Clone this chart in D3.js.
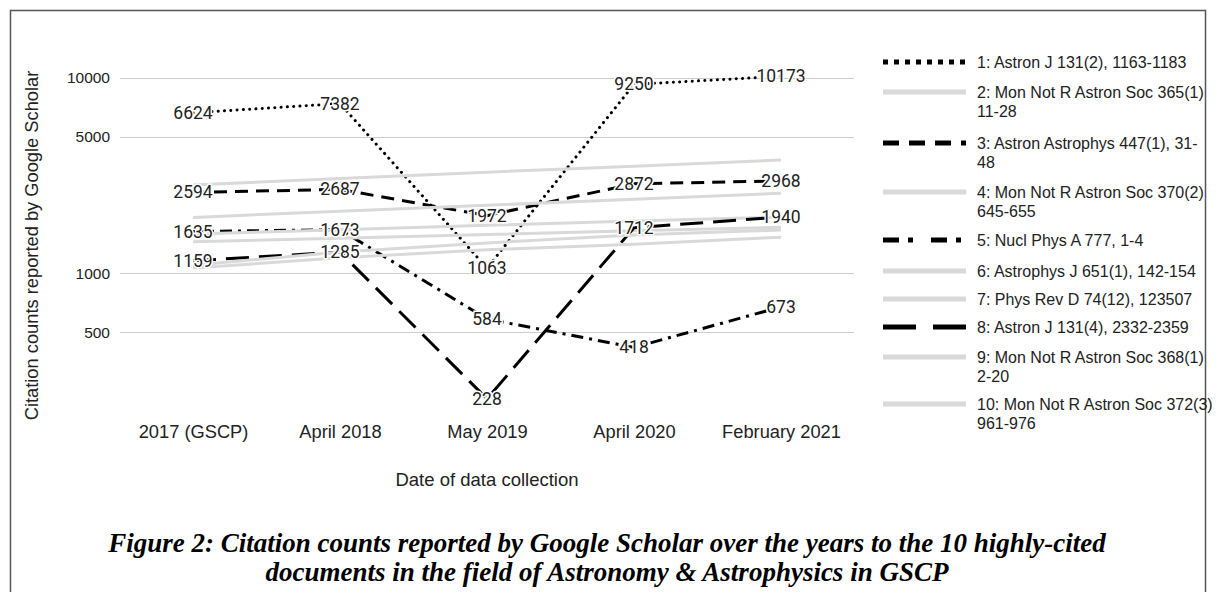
<!DOCTYPE html>
<html><head><meta charset="utf-8">
<script src="https://cdn.jsdelivr.net/npm/d3@7"></script>
<style>
html,body{margin:0;padding:0;background:#fff;}
svg{display:block;}
</style></head>
<body>
<svg id="chart" width="1216" height="592"></svg>
<script>
// ---- data ----
const categories = ["2017 (GSCP)", "April 2018", "May 2019", "April 2020", "February 2021"];
const seriesNames = [
  ["1: Astron J 131(2), 1163-1183"],
  ["2: Mon Not R Astron Soc 365(1)", "11-28"],
  ["3: Astron Astrophys 447(1), 31-", "48"],
  ["4: Mon Not R Astron Soc 370(2)", "645-655"],
  ["5: Nucl Phys A 777, 1-4"],
  ["6: Astrophys J 651(1), 142-154"],
  ["7: Phys Rev D 74(12), 123507"],
  ["8: Astron J 131(4), 2332-2359"],
  ["9: Mon Not R Astron Soc 368(1)", "2-20"],
  ["10: Mon Not R Astron Soc 372(3)", "961-976"]
];
const s1 = [6624, 7382, 1063, 9250, 10173];
const s2 = [2830, 3050, 3290, 3530, 3800];
const s3 = [2594, 2687, 1972, 2872, 2968];
const s4 = [1930, 2080, 2230, 2390, 2570];
const s5 = [1635, 1673, 584, 418, 673];
const s6 = [1590, 1670, 1760, 1850, 1940];
const s7 = [1450, 1510, 1580, 1650, 1720];
const s8 = [1159, 1285, 228, 1712, 1940];
const s9 = [1100, 1285, 1430, 1570, 1665];
const s10 = [1065, 1200, 1320, 1410, 1530];
const seriesValues = [s1, s2, s3, s4, s5, s6, s7, s8, s9, s10];
const labelled = [true, false, true, false, true, false, false, true, false, false];
const yTicks = [500, 1000, 5000, 10000];
const yTitle = "Citation counts reported by Google Scholar";
const xTitle = "Date of data collection";
const caption = [
  "Figure 2: Citation counts reported by Google Scholar over the years to the 10 highly-cited",
  "documents in the field of Astronomy & Astrophysics in GSCP"
];

// ---- styles / layout ----
const GRAY = "#d9d9d9";
const chartDash = [null, null, "13,8", null, "12,6,3,6", null, null, "23,10", null, null];
const chartDot = [true, false, false, false, false, false, false, false, false, false];
const legendDash = ["5,6", null, "16,10", null, "16,9,5,18", null, null, "33,17", null, null];
const isBlack = [true, false, true, false, true, false, false, true, false, false];
const legendRowY = [62, 92, 143, 192, 240, 271, 299, 327, 357, 404];

const svg = d3.select("#chart");
const sans = "'Liberation Sans', Arial, sans-serif";

// frame
svg.append("rect").attr("x", 10.5).attr("y", 10.5).attr("width", 1195).attr("height", 640)
  .attr("fill", "none").attr("stroke", "#555").attr("stroke-width", 1.5);

const x = d3.scalePoint().domain(categories).range([193, 781]);
const y = d3.scaleLog().domain([200, 12000]).range([410, 62.3]);

// gridlines
svg.append("g").selectAll("line").data(yTicks).join("line")
  .attr("x1", 120).attr("x2", 854)
  .attr("y1", d => Math.round(y(d)) + 0.5).attr("y2", d => Math.round(y(d)) + 0.5)
  .attr("stroke", "#cccccc").attr("stroke-width", 1);

// y axis tick labels
const yAxis = d3.axisLeft(y).tickValues(yTicks).tickFormat(d3.format("d")).tickSize(0).tickPadding(0);
const gy = svg.append("g").attr("transform", "translate(110,0)").call(yAxis);
gy.select(".domain").remove();
gy.selectAll("text").attr("font-family", sans).attr("font-size", 15.5).attr("fill", "#222");

// x axis labels
const xAxis = d3.axisBottom(x).tickSize(0).tickPadding(0);
const gx = svg.append("g").attr("transform", "translate(0,425)").call(xAxis);
gx.select(".domain").remove();
gx.selectAll("text").attr("font-family", sans).attr("font-size", 18.3).attr("fill", "#222");

// lines
const line = d3.line().x((d, i) => x(categories[i])).y(d => y(d));
const gl = svg.append("g");
seriesValues.forEach((vals, k) => {
  const p = gl.append("path").datum(vals).attr("d", line)
    .attr("fill", "none")
    .attr("stroke", isBlack[k] ? "#000" : GRAY)
    .attr("stroke-width", 3);
  if (chartDot[k]) {
    p.attr("stroke-dasharray", "0.1,6.2").attr("stroke-linecap", "round").attr("stroke-width", 3);
  } else if (chartDash[k]) {
    p.attr("stroke-dasharray", chartDash[k]);
  }
});

// data labels
const glab = svg.append("g");
seriesValues.forEach((vals, k) => {
  if (!labelled[k]) return;
  glab.selectAll(null).data(vals).join("text")
    .attr("x", (d, i) => x(categories[i]))
    .attr("y", d => y(d))
    .attr("text-anchor", "middle").attr("dominant-baseline", "central")
    .attr("font-family", "Roboto, sans-serif").attr("font-size", 17.5)
    .attr("fill", "#222")
    .attr("stroke", "#fff").attr("stroke-width", 3).attr("paint-order", "stroke")
    .text(d => d);
});

// axis titles
svg.append("text").attr("transform", "translate(38,245.5) rotate(-90)")
  .attr("text-anchor", "middle").attr("font-family", sans).attr("font-size", 18.3)
  .attr("fill", "#222").text(yTitle);
svg.append("text").attr("x", 487).attr("y", 486)
  .attr("text-anchor", "middle").attr("font-family", sans).attr("font-size", 18.5)
  .attr("fill", "#222").text(xTitle);

// legend
const lg = svg.append("g");
seriesNames.forEach((lines, k) => {
  const ly = legendRowY[k];
  const l = lg.append("line").attr("x1", 883).attr("x2", 966).attr("y1", ly).attr("y2", ly)
    .attr("stroke", isBlack[k] ? "#000" : GRAY).attr("stroke-width", 5);
  if (legendDash[k]) l.attr("stroke-dasharray", legendDash[k]);
  const t = lg.append("text").attr("x", 977).attr("y", ly).attr("dominant-baseline", "central")
    .attr("font-family", sans).attr("font-size", 16).attr("fill", "#222");
  lines.forEach((s, j) => {
    t.append("tspan").attr("x", 977).attr("dy", j === 0 ? 0 : 19).text(s);
  });
});

// caption
svg.append("g").selectAll("text").data(caption).join("text")
  .attr("x", 607).attr("y", (d, i) => 552 + i * 28.5)
  .attr("text-anchor", "middle")
  .attr("font-family", "'Liberation Serif', 'Times New Roman', serif")
  .attr("font-weight", "bold").attr("font-style", "italic").attr("font-size", 27)
  .attr("fill", "#000").text(d => d);
</script>
</body></html>
